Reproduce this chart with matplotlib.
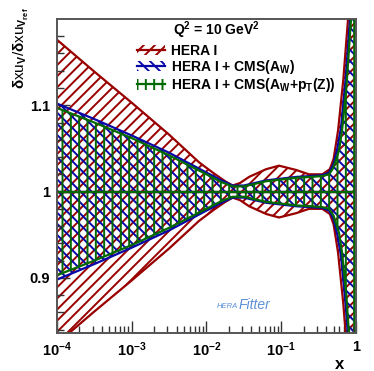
import numpy as np
import matplotlib
matplotlib.use('Agg')
import matplotlib.pyplot as plt
from matplotlib.patches import Patch
from matplotlib.lines import Line2D

plt.rcParams['font.family'] = ['Liberation Sans', 'DejaVu Sans']
plt.rcParams['font.weight'] = 'bold'
plt.rcParams['mathtext.fontset'] = 'custom'
plt.rcParams['mathtext.rm'] = 'Liberation Sans:bold'
plt.rcParams['mathtext.it'] = 'Liberation Sans:bold'
plt.rcParams['mathtext.bf'] = 'Liberation Sans:bold'
plt.rcParams['mathtext.default'] = 'rm'
plt.rcParams['hatch.linewidth'] = 1.4

# half-width of each uncertainty band (relative), vs log10(x)
hera_lx = [-4.0, -3.5, -3.0, -2.5, -2.1, -1.9, -1.75, -1.65, -1.55, -1.43, -1.2, -1.03,
           -0.8, -0.63, -0.45, -0.35, -0.3, -0.267, -0.24, -0.17, -0.107, -0.05, 0.0]
hera_d = [0.176, 0.139, 0.103, 0.066, 0.034, 0.021, 0.012, 0.007, 0.010, 0.017, 0.026, 0.030,
          0.025, 0.020, 0.020, 0.026, 0.038, 0.056, 0.071, 0.13, 0.20, 0.30, 0.40]

aw_lx = [-4.0, -3.5, -3.0, -2.5, -2.0, -1.8, -1.65, -1.5, -1.35, -1.2, -1.0, -0.8,
         -0.6, -0.45, -0.36, -0.3, -0.25, -0.2, -0.14, -0.08, -0.03, 0.0]
aw_d = [0.102, 0.084, 0.065, 0.045, 0.022, 0.013, 0.007, 0.007, 0.010, 0.013, 0.015, 0.017,
        0.018, 0.019, 0.022, 0.032, 0.050, 0.075, 0.13, 0.20, 0.30, 0.38]

awpt_lx = [-4.0, -3.5, -3.0, -2.5, -2.0, -1.8, -1.65, -1.5, -1.35, -1.2, -1.0, -0.8,
           -0.6, -0.45, -0.36, -0.3, -0.227, -0.187, -0.13, -0.067, -0.02, 0.0]
awpt_d = [0.097, 0.080, 0.062, 0.042, 0.020, 0.011, 0.006, 0.006, 0.009, 0.012, 0.014, 0.016,
          0.017, 0.018, 0.020, 0.028, 0.048, 0.071, 0.12, 0.20, 0.30, 0.35]

labels = ['HERA I', r'HERA I + CMS(A$_{W}$)', r'HERA I + CMS(A$_{W}$+p$_{T}$(Z))']
colors = ['#990000', '#0808a8', '#006a00']
hatches = ['///', '\\\\\\', '||']

fig = plt.figure(figsize=(3.74, 3.71), dpi=100)
ax = fig.add_axes([0.152, 0.102, 0.8, 0.847])

bands = [(hera_lx, hera_d), (aw_lx, aw_d), (awpt_lx, awpt_d)]
handles = []
for (lx, d), c, h, lab in zip(bands, colors, hatches, labels):
    x = 10 ** np.array(lx)
    d = np.array(d)
    ax.fill_between(x, 1 - d, 1 + d, facecolor='none', edgecolor=c, hatch=h, linewidth=0)
    ax.plot(x, 1 + d, color=c, lw=1.6)
    ax.plot(x, 1 - d, color=c, lw=1.6)
    ax.plot(x, np.ones_like(d), color=c, lw=1.6)
    handles.append((Patch(facecolor='none', edgecolor=c, hatch=h, linewidth=0),
                    Line2D([], [], color=c, lw=1.6)))

ax.set_xscale('log')
ax.set_xlim(1e-4, 1)
ax.set_ylim(0.836, 1.2)
ax.set_yticks([0.9, 1.0, 1.1])
ax.set_yticklabels(['0.9', '1', '1.1'])
ax.set_yticks(np.arange(0.84, 1.2, 0.02), minor=True)
ax.tick_params(which='both', direction='in', top=False, right=False, labelsize=10.5, width=1, color='#333333')
ax.tick_params(which='major', length=9, pad=5)
ax.tick_params(which='minor', length=5)
for s in ax.spines.values():
    s.set_linewidth(1.4)
    s.set_color('#555555')
ax.set_xticks([1e-4, 1e-3, 1e-2, 1e-1, 1])
ax.set_xticklabels([r'10$^{-4}$', r'10$^{-3}$', r'10$^{-2}$', r'10$^{-1}$', '1'])

ax.set_ylabel(r'$\delta$xu$_{V}$/$\delta$xu$_{V_{ref}}$', loc='top', fontsize=11)
ax.yaxis.set_label_coords(-0.085, 1.038)
ax.set_xlabel('x', loc='right', fontsize=12, fontweight='bold')
ax.xaxis.set_label_coords(0.96, -0.075)

fig.text(173 / 374, 1 - 30 / 371, r'Q$^{2}$ = 10 GeV$^{2}$', fontsize=10, va='center', ha='left')
ax.legend(handles, labels, loc='upper left', bbox_to_anchor=(127 / 374, 1 - 34 / 371),
          bbox_transform=fig.transFigure, frameon=False, fontsize=10,
          handlelength=2.0, handleheight=0.8, handletextpad=0.45, labelspacing=0.02,
          borderpad=0.2)

fig.text(217 / 374, 1 - 307 / 371, 'HERA', fontsize=5.5, style='italic', color='#5b8ed8',
         fontweight='normal', va='center')
fig.text(239 / 374, 1 - 305 / 371, 'Fitter', fontsize=10, style='italic', color='#5b8ed8',
         fontweight='normal', va='center')

fig.savefig('out.png', dpi=100)
